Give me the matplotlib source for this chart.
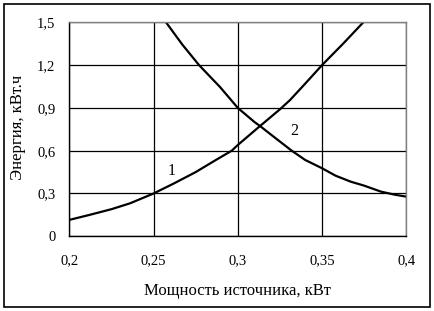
import matplotlib
matplotlib.use("Agg")
import matplotlib.pyplot as plt
from matplotlib.patches import Rectangle

plt.rcParams['font.family'] = ['Liberation Serif', 'DejaVu Serif']

# Curve 1 (increasing)
x1 = [0.200, 0.212, 0.225, 0.236, 0.250, 0.262, 0.275, 0.287, 0.2964, 0.300,
      0.3132, 0.325, 0.331, 0.340, 0.350, 0.3625, 0.3745]
y1 = [0.115, 0.150, 0.190, 0.231, 0.300, 0.370, 0.450, 0.535, 0.600, 0.640,
      0.773, 0.890, 0.955, 1.070, 1.200, 1.350, 1.500]
# Curve 2 (decreasing)
x2 = [0.2574, 0.267, 0.277, 0.2894, 0.300, 0.310, 0.3132, 0.320, 0.332, 0.340,
      0.350, 0.358, 0.367, 0.375, 0.385, 0.393, 0.400]
y2 = [1.500, 1.345, 1.200, 1.047, 0.900, 0.800, 0.773, 0.710, 0.600, 0.535,
      0.477, 0.425, 0.383, 0.355, 0.313, 0.292, 0.278]

xticks = [0.2, 0.25, 0.3, 0.35, 0.4]
xticklabels = ['0,2', '0,25', '0,3', '0,35', '0,4']
yticks = [0, 0.3, 0.6, 0.9, 1.2, 1.5]
yticklabels = ['0', '0,3', '0,6', '0,9', '1,2', '1,5']

fig = plt.figure(figsize=(4.35, 3.11), dpi=100)
ax = fig.add_axes([0.1593, 0.2402, 0.934 - 0.1593, 0.9283 - 0.2402])

ax.plot(x1, y1, color='black', lw=1.6)
ax.plot(x2, y2, color='black', lw=1.6)

ax.set_xlim(0.2, 0.4)
ax.set_ylim(0, 1.5)
ax.set_xticks(xticks)
ax.set_xticklabels(xticklabels)
ax.set_yticks(yticks)
ax.set_yticklabels(yticklabels)
ax.tick_params(axis='both', length=0, labelsize=10.5)
ax.tick_params(axis='x', pad=13)
ax.tick_params(axis='y', pad=10)
ax.grid(True, color='black', lw=0.9)
ax.set_axisbelow(True)

for s in ['left', 'bottom']:
    ax.spines[s].set_color('black')
    ax.spines[s].set_linewidth(1.0)
for s in ['top', 'right']:
    ax.spines[s].set_color('#808080')
    ax.spines[s].set_linewidth(1.0)

ax.text(0.2605, 0.46, '1', fontsize=11.5, ha='center', va='center')
ax.text(0.3335, 0.74, '2', fontsize=11.5, ha='center', va='center')

fig.text(237 / 435, 1 - 291 / 311, 'Мощность источника, кВт', fontsize=12,
         ha='center', va='center')
fig.text(18 / 435, 1 - 127 / 311, 'Энергия, кВт.ч', fontsize=12,
         ha='center', va='center', rotation=90)

fig.patches.append(Rectangle((4 / 435, 4 / 311), 426 / 435, 303 / 311,
                             transform=fig.transFigure, fill=False,
                             edgecolor='black', lw=1.2))

fig.savefig('out.png', dpi=100)
